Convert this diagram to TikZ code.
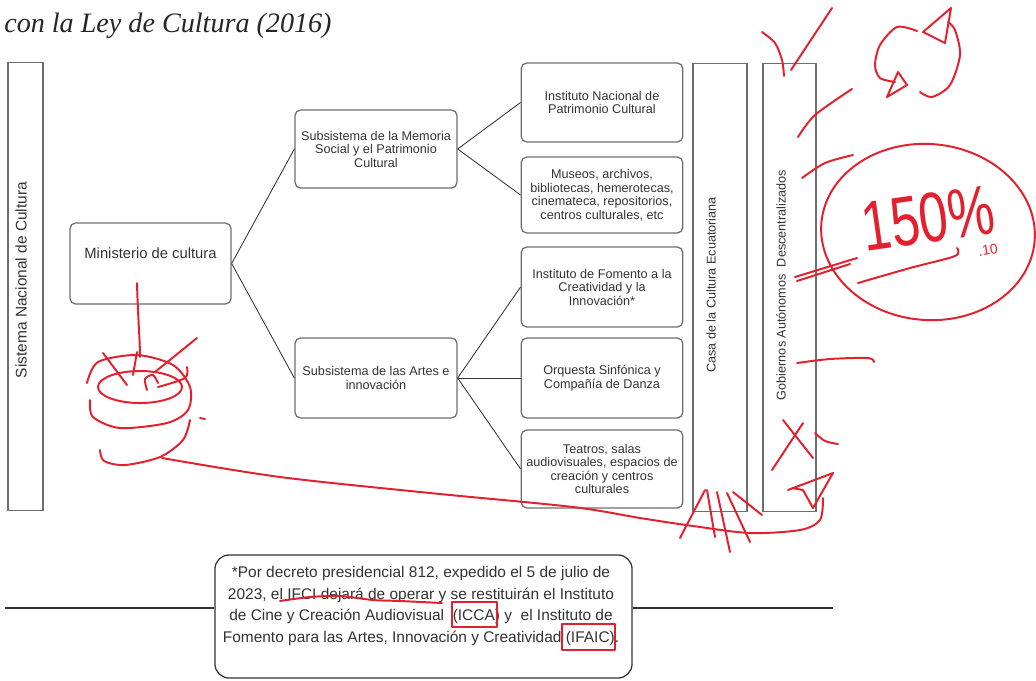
\documentclass[tikz,border=0pt]{standalone}
\usepackage{fontspec}
\setmainfont{Liberation Sans}
\newfontfamily\titlefont{Liberation Serif}
\usetikzlibrary{positioning}

\definecolor{boxgray}{HTML}{6E6E6E}
\definecolor{txtgray}{HTML}{333333}
\definecolor{penred}{HTML}{E2202E}

\tikzset{
  box/.style={draw=boxgray, line width=0.9pt, rounded corners=4pt, align=center,
    text=txtgray, font=\fontsize{9}{9.6}\selectfont, minimum width=4.04cm, inner sep=1pt},
  bar/.style={draw=boxgray, line width=0.9pt, minimum height=11.2cm, inner sep=0pt},
  vtext/.style={rotate=90, text=txtgray, inner sep=0pt, font=\fontsize{9}{10}\selectfont},
  link/.style={draw=txtgray, line width=0.6pt},
  pen/.style={draw=penred, line width=1.4pt, line cap=round, line join=round},
}

\begin{document}
\begin{tikzpicture}[x=0.025cm, y=-0.025cm]
  \useasboundingbox (0,0) rectangle (1036,680);

  \node[anchor=base west, inner sep=0pt, text=black!85,
        font=\titlefont\itshape\fontsize{20}{22}\selectfont] (titulo) at (4,32) {con la Ley de Cultura (2016)};

  % columnas verticales
  \node[bar, minimum width=0.875cm] (sistema) at (25.5,286.5) {};
  \node[vtext, font=\fontsize{11}{12}\selectfont] (sistematxt) at (21,280) {Sistema Nacional de Cultura};
  \node[bar, minimum width=1.35cm] (casa) at (720,287.5) {};
  \node[vtext] (casatxt) at (711,285) {Casa de la Cultura Ecuatoriana};
  \node[bar, minimum width=1.325cm] (gad) at (789.5,287.5) {};
  \node[vtext] (gadtxt) at (781,285) {Gobiernos Autónomos~ Descentralizados};

  % cajas
  \node[box, minimum width=4.025cm, minimum height=2.025cm, font=\fontsize{10.5}{12}\selectfont,
        text height=7.6pt, text depth=15.4pt] (mini) at (150.5,263.5) {Ministerio de cultura};
  \node[box, minimum width=4.05cm, minimum height=1.95cm] (memo) at (376,149) {Subsistema de la Memoria\\Social y el Patrimonio\\Cultural};
  \node[box, minimum width=4.05cm, minimum height=2cm] (artes) at (376,378) {Subsistema de las Artes e\\innovación};

  \node[box, minimum height=1.975cm] (inpc) at (602,102.5) {Instituto Nacional de\\Patrimonio Cultural};
  \node[box, minimum height=1.9cm] (museos) at (602,195) {Museos, archivos,\\bibliotecas, hemerotecas,\\cinemateca, repositorios,\\centros culturales, etc};
  \node[box, minimum height=2cm] (ifci) at (602,287) {Instituto de Fomento a la\\Creatividad y la\\Innovación*};
  \node[box, minimum height=2cm] (orquesta) at (602,378) {Orquesta Sinfónica y\\Compañía de Danza};
  \node[box, minimum height=1.95cm] (teatros) at (602,469) {Teatros, salas\\audiovisuales, espacios de\\creación y centros\\culturales};

  \draw[link] (mini.east) -- (memo.west);
  \draw[link] (mini.east) -- (artes.west);
  \draw[link] (memo.east) -- (inpc.west);
  \draw[link] (memo.east) -- (museos.west);
  \draw[link] (artes.east) -- (ifci.west);
  \draw[link] (artes.east) -- (orquesta.west);
  \draw[link] (artes.east) -- (teatros.west);

  % nota al pie
  \node[draw=txtgray, line width=0.9pt, rounded corners=10pt, minimum width=10.425cm,
        minimum height=3.075cm] (nota) at (423.5,616.5) {};
  \node[align=center, text=txtgray, inner sep=0pt, font=\fontsize{11}{15.4}\selectfont] (notatxt) at (421,606)
    {*Por decreto presidencial 812, expedido el 5 de julio de\\
     2023, el IFCI dejará de operar y se restituirán el Instituto\\
     de Cine y Creación Audiovisual~ (ICCA) y~ el Instituto de\\
     Fomento para las Artes, Innovación y Creatividad (IFAIC).};
  \coordinate (ri) at (5,608);
  \coordinate (rd) at (833,608);
  \draw[link, line width=0.8pt] (ri) -- (ri -| nota.west);
  \draw[link, line width=0.8pt] (nota.east |- rd) -- (rd);

  % trazos a mano
  \draw[pen] (137,283) .. controls (138,320) and (140,340) .. (140,357);
  \draw[pen] (140,387) ellipse [x radius=42, y radius=16];
  \draw[pen] plot[smooth] coordinates {(87,383) (98,362) (137,355) (173,365) (190,387) (188,410) (167,423) (120,428) (93,417) (90,400)};
  \draw[pen] plot[smooth] coordinates {(100,450) (104,461) (125,465) (160,457) (183,440) (190,420)};
  \draw[pen] (103,353) -- (127,385);
  \draw[pen] (137,352) -- (133,375);
  \draw[pen] (197,338) -- (155,372);
  \draw[pen] plot[smooth] coordinates {(187,367) (185,378) (158,387)};
  \draw[pen] plot[smooth] coordinates {(147,390) (145,379) (153,375) (158,383)};
  \draw[pen] (200,418) -- (205,419);
  \draw[pen] plot[smooth] coordinates {(162,458) (280,477) (430,493) (573,507) (640,518) (693,526) (750,533) (800,530) (820,520) (823,498)};

  \draw[pen] (705,490) -- (680,538);
  \draw[pen] (707,490) -- (715,537);
  \draw[pen] (717,492) -- (730,552);
  \draw[pen] (727,493) -- (750,542);
  \draw[pen] (733,492) -- (762,515);
  \draw[pen] (788,490) -- (833,473) -- (813,508) -- (803,490) -- (792,488);
  \draw[pen] (783,420) -- (813,458);
  \draw[pen] (803,423) -- (772,470);
  \draw[pen] plot[smooth] coordinates {(815,433) (825,441) (838,444)};

  \draw[pen] plot[smooth] coordinates {(797,363) (830,359) (868,358) (874,362)};
  \draw[pen] (795,277) -- (857,258);
  \draw[pen] (797,281) -- (850,264);
  \draw[pen] plot[smooth] coordinates {(858,283) (910,268) (955,256) (957,248)};
  \draw[pen] plot[smooth] coordinates {(802,178) (825,163) (853,155)};
  \draw[pen] plot[smooth] coordinates {(798,137) (815,115) (852,89)};
  \draw[pen] plot[smooth] coordinates {(762,32) (775,43) (782,60) (784,76)};
  \draw[pen] (791,70) -- (832,8);

  \draw[pen] plot[smooth] coordinates {(917,31) (897,27) (880,45) (875,65) (880,78) (895,82)};
  \draw[pen] (898,72) -- (907,85) -- (887,97) -- cycle;
  \draw[pen] plot[smooth] coordinates {(920,92) (932,97) (950,85) (960,55) (955,30) (948,22)};
  \draw[pen] (923,32) -- (951,8) -- (945,43) -- cycle;

  \draw[pen] (928,232) ellipse [x radius=107, y radius=88, rotate=-5];
  \node[text=penred, inner sep=0pt, rotate=8, xscale=0.74, font=\fontsize{50}{50}\selectfont] (cien) at (928,218) {150\%};
  \node[text=penred, inner sep=0pt, rotate=8, font=\fontsize{10}{10}\selectfont] (punto) at (988,250) {.10};

  \draw[pen] plot[smooth] coordinates {(280,601) (310,597) (340,596) (373,600) (400,601) (442,603)};
  \draw[pen] (452,602) rectangle (497,627);
  \draw[pen] (562,624) rectangle (615,650);
\end{tikzpicture}
\end{document}
